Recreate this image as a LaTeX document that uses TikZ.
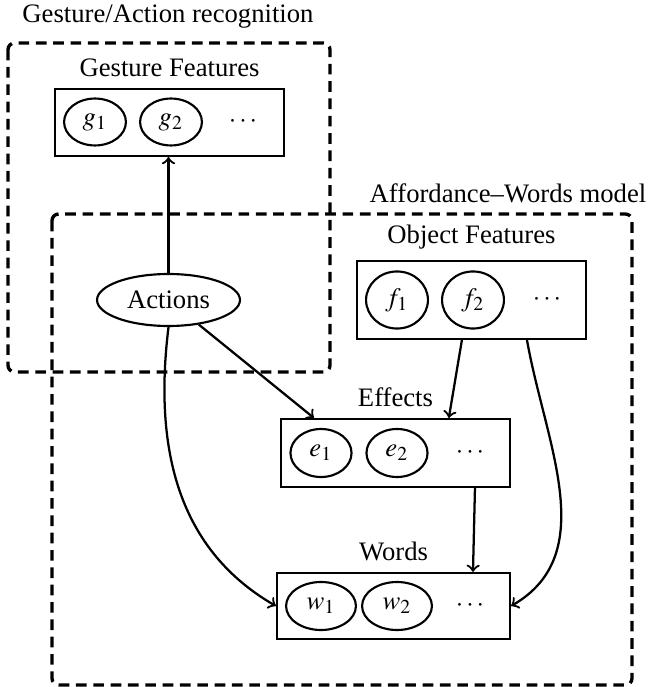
\documentclass[tikz,border=0pt]{standalone}
\usepackage{mathptmx}
\usepackage{fontspec}
\setmainfont{Liberation Serif}
\usetikzlibrary{positioning,shapes.geometric}

\begin{document}
\begin{tikzpicture}[x=0.375pt,y=-0.375pt,
  every node/.style={font=\normalsize},
  featbox/.style={draw,thick,rectangle,inner sep=0pt},
  var/.style={draw,thick,ellipse,inner sep=0pt},
  groupbox/.style={line width=1.25pt,dash pattern=on 4pt off 2.5pt,rounded corners=2.5pt},
  link/.style={->,line width=0.85pt}]
  \useasboundingbox (0,0) rectangle (647,687);

  % groups
  \draw[groupbox] (8,43) rectangle (330,372);
  \draw[groupbox] (52,214) rectangle (632,685);
  \node (gtitle) at (168,17) {Gesture/Action recognition};
  \node (atitle) at (508,193) {Affordance--Words model};

  % gesture features
  \node[featbox,minimum width=85.9pt,minimum height=25.1pt] (gbox) at (169.5,122.5) {};
  \node[above=0.5pt of gbox] (glabel) {Gesture Features};
  \node[var,minimum width=23.2pt,minimum height=17.6pt] (g1) at (95,122) {$g_1$};
  \node[var,minimum width=23.2pt,minimum height=17.6pt] (g2) at (171,122) {$g_2$};
  \node (gdots) at (243,122) {$\cdots$};

  % object features
  \node[featbox,minimum width=85.9pt,minimum height=29.2pt] (obox) at (471.5,300) {};
  \node[above=0.5pt of obox] (olabel) {Object Features};
  \node[var,minimum width=23.2pt,minimum height=21.4pt] (f1) at (397,300) {$f_1$};
  \node[var,minimum width=23.2pt,minimum height=21.4pt] (f2) at (473,300) {$f_2$};
  \node (fdots) at (547,300) {$\cdots$};

  % actions
  \node[var,minimum width=53.6pt,minimum height=19.5pt] (act) at (168.5,300) {Actions};

  % effects
  \node[featbox,minimum width=85.9pt,minimum height=25.5pt] (ebox) at (395.5,453) {};
  \node[above=0.5pt of ebox] (elabel) {Effects};
  \node[var,minimum width=22.9pt,minimum height=18pt] (e1) at (321,453) {$e_1$};
  \node[var,minimum width=22.9pt,minimum height=18pt] (e2) at (397,453) {$e_2$};
  \node (edots) at (470,453) {$\cdots$};

  % words
  \node[featbox,minimum width=87.4pt,minimum height=24.8pt] (wbox) at (393.5,606) {};
  \node[above=0.5pt of wbox] (wlabel) {Words};
  \node[var,minimum width=26.2pt,minimum height=18pt] (w1) at (321,606) {$w_1$};
  \node[var,minimum width=26.2pt,minimum height=18pt] (w2) at (397,606) {$w_2$};
  \node (wdots) at (470,606) {$\cdots$};

  % links
  \draw[link] (act.north) -- (act.north |- gbox.south);
  \draw[link] (act) -- ([xshift=12.75pt]ebox.north west);
  \draw[link] ([xshift=-3.6pt]obox.south) -- ([xshift=20pt]ebox.north);
  \draw[link] ([xshift=29.8pt]ebox.south) -- ([xshift=29.8pt]wbox.north);
  \draw[link] ([xshift=20.8pt]obox.south) to[out=-80,in=30] (wbox.east);
  \draw[link] (act.south) to[out=-97,in=150] (wbox.west);
\end{tikzpicture}
\end{document}
